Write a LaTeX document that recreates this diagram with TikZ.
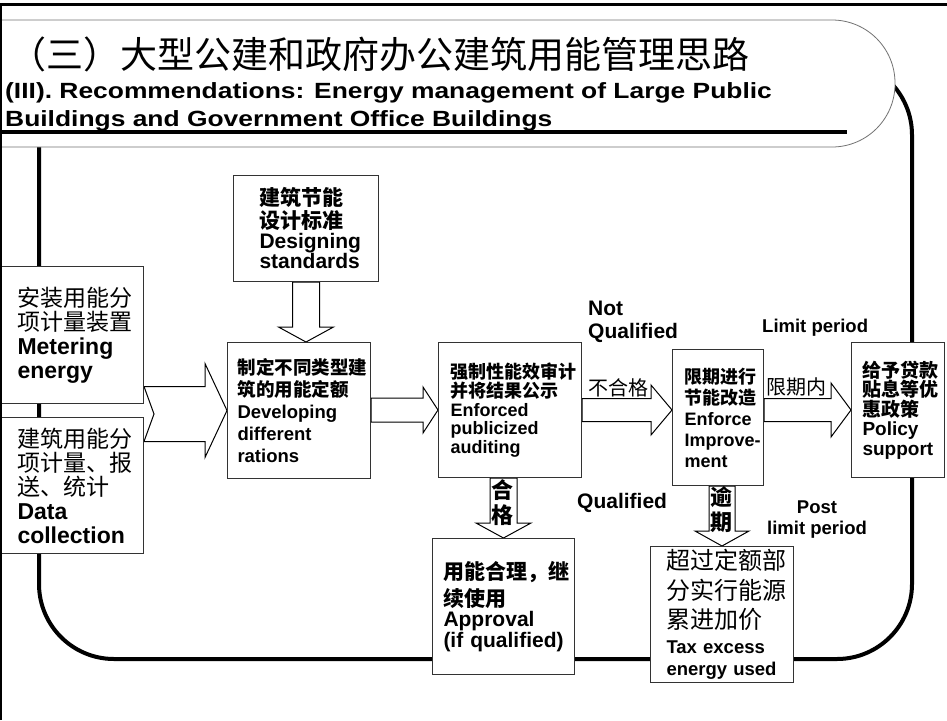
\documentclass[tikz,border=0pt]{standalone}
\usepackage{fontspec}
\setmainfont{Liberation Sans}
\newfontfamily\cjk{Noto Sans CJK SC}
\newfontfamily\widefont[FakeStretch=1.2]{Liberation Sans}
\usetikzlibrary{calc,backgrounds}
\hyphenpenalty=10000 \exhyphenpenalty=10000 \hfuzz=\maxdimen \hbadness=10000
\newcommand\fs[2]{\fontsize{#1pt}{#2pt}\selectfont}
\newcommand\zr{\cjk\mdseries}
\newcommand\zb{\cjk\bfseries}
% horizontal block arrow: #1 start anchor, #2 tip, #3 shaft half, #4 head half, #5 head length
\newcommand\harrow[5]{%
  \begin{pgfonlayer}{background}
  \draw[barrow] let \p1=(#1), \p2=(#2) in
    (\x1,\y2+#3) -- (\x2-#5,\y2+#3) -- (\x2-#5,\y2+#4) -- (\x2,\y2)
    -- (\x2-#5,\y2-#4) -- (\x2-#5,\y2-#3) -- (\x1,\y2-#3) -- cycle;
  \end{pgfonlayer}}
% vertical block arrow (downwards)
\newcommand\varrow[5]{%
  \begin{pgfonlayer}{background}
  \draw[barrow] let \p1=(#1), \p2=(#2) in
    (\x2-#3,\y1) -- (\x2-#3,\y2+#5) -- (\x2-#4,\y2+#5) -- (\x2,\y2)
    -- (\x2+#4,\y2+#5) -- (\x2+#3,\y2+#5) -- (\x2+#3,\y1) -- cycle;
  \end{pgfonlayer}}
\tikzset{
  box/.style={draw=black!80, line width=1pt, fill=white, anchor=north west,
    inner ysep=0pt, align=left},
  barrow/.style={draw=black, line width=1pt, fill=white, line join=miter},
  lbl/.style={inner sep=0pt, font=\bfseries\fs{21}{23}},
}
\begin{document}
\begin{tikzpicture}[x=1pt,y=-1pt]
\useasboundingbox (0,0) rectangle (947,720);
% big rounded frame
\draw[line width=4pt, rounded corners=75pt] (39,60) rectangle (912,659);
% title banner
\draw[draw=black!55, line width=0.8pt, fill=white, rounded corners=63pt]
  (-5,20) -- (895,20) -- (895,147) -- (-5,147);
\node[anchor=west, inner sep=0pt, font=\zr\fs{37}{37}] (ttl) at (9,54)
  {（三）大型公建和政府办公建筑用能管理思路};
\node[anchor=base west, inner sep=0pt, font=\widefont\bfseries\fs{22}{22}] (sub1) at (5,98.5)
  {(III). Recommendations: Energy management of Large Public};
\node[anchor=base west, inner sep=0pt, font=\widefont\bfseries\fs{22}{22}] (sub2) at (5,126.5)
  {Buildings and Government Office Buildings};
\draw[line width=3.5pt] (0,132) -- (847,132);

% boxes
\node[box, minimum width=145pt, minimum height=106pt, text width=93pt, inner xsep=26pt,
  font=\bfseries\fs{21}{20}] (des) at (233,175)
  {{\zb 建筑节能}\\[3pt]{\zb 设计标准}\\Designing\\standards};
\node[box, minimum width=143pt, minimum height=137pt, text width=109pt, inner xsep=17pt,
  font=\bfseries\fs{23}{24}] (met) at (0,266)
  {{\zr 安装用能分}\\{\zr 项计量装置}\\Metering\\energy};
\node[box, minimum width=143pt, minimum height=136pt, text width=109pt, inner xsep=17pt,
  font=\bfseries\fs{23}{24}] (dat) at (0,417)
  {{\zr 建筑用能分}\\{\zr 项计量、报}\\{\zr 送、统计}\\Data\\collection};
\node[box, minimum width=143pt, minimum height=136pt, text width=123pt, inner xsep=10pt,
  font=\bfseries\fs{18.5}{22}] (dev) at (227,342)
  {{\zb 制定不同类型建}\\{\zb 筑的用能定额}\\Developing\\different\\rations};
\node[box, minimum width=143pt, minimum height=135pt, text width=119pt, inner xsep=12pt,
  font=\bfseries\fs{18}{18.5}] (aud) at (438,342)
  {{\zb 强制性能效审计}\\[1pt]{\zb 并将结果公示}\\Enforced\\publicized\\auditing};
\node[box, minimum width=91pt, minimum height=136pt, text width=67pt, inner xsep=12pt,
  font=\bfseries\fs{18}{21}] (enf) at (672,349)
  {{\zb 限期进行}\\{\zb 节能改造}\\Enforce\\Improve-\\ment};
\node[box, minimum width=93pt, minimum height=135pt, text width=71pt, inner xsep=11pt,
  font=\bfseries\fs{19}{19.5}] (pol) at (851,342)
  {{\zb 给予贷款}\\{\zb 贴息等优}\\{\zb 惠政策}\\Policy\\support};
\node[box, minimum width=142pt, minimum height=136pt, text width=120pt, inner xsep=11pt,
  font=\bfseries\fs{21}{20.5}] (app) at (432,538)
  {{\zb 用能合理，继}\\[4pt]{\zb 续使用}\\Approval\\\mbox{(if qualified)}};
\node[box, minimum width=143pt, minimum height=136pt, text width=111pt, inner xsep=16pt,
  font=\bfseries\fs{18.5}{22}] (tax) at (650,546)
  {{\zr\fs{24}{22}超过定额部}\\[6.5pt]{\zr\fs{24}{22}分实行能源}\\[6.5pt]{\zr\fs{24}{22}累进加价}\\[3pt]\mbox{Tax excess}\\\mbox{energy used}};

% block arrows
\begin{pgfonlayer}{background}
\draw[barrow] let \p1=(met.east), \p2=(dev.west) in
  (\x1,\y2+24pt) -- (\x2-22pt,\y2+24pt) -- (\x2-22pt,\y2+47pt) -- (\x2,\y2)
  -- (\x2-22pt,\y2-47pt) -- (\x2-22pt,\y2-31pt) -- (\x1,\y2-31pt) -- (\x1+10pt,\y2-3.5pt) -- cycle;
\end{pgfonlayer}
\varrow{des.south}{des.south |- dev.north}{13.5pt}{27.5pt}{15pt}
\harrow{dev.east}{aud.west}{12pt}{23pt}{15pt}
\harrow{aud.east}{enf.west |- aud.east}{11.5pt}{25pt}{21pt}
\harrow{enf.east}{pol.west}{11.5pt}{27pt}{20pt}
\varrow{aud.south}{app.north}{13.5pt}{27.5pt}{15pt}
\varrow{enf.south}{tax.north}{13pt}{27pt}{15pt}

% labels
\node[lbl, anchor=west, align=left] (nq) at (588,321.5) {Not\\Qualified};
\node[anchor=west, inner sep=0pt, font=\zr\fs{20}{20}] (bhg) at (588,388) {不合格};
\node[lbl, anchor=west, font=\bfseries\fs{18.5}{20}] (lp) at (762,328) {Limit period};
\node[anchor=west, inner sep=0pt, font=\zr\fs{20}{20}] (xqn) at (766,387) {限期内};
\node[lbl, anchor=west] (q) at (577,503) {Qualified};
\node[lbl, align=center, font=\bfseries\fs{18.5}{21}] (plp) at (817,519.5) {Post\\limit period};
\node[inner sep=0pt, align=center, font=\zb\fs{22}{25}] (hg) at (502,502.5) {合\\格};
\node[inner sep=0pt, align=center, font=\zb\fs{22}{25}] (yq) at (721,509.5) {逾\\期};

% outer page frame
\draw[line width=2.5pt] (1.2,720) -- (1.2,4.5) -- (947,4.5);
\end{tikzpicture}
\end{document}
